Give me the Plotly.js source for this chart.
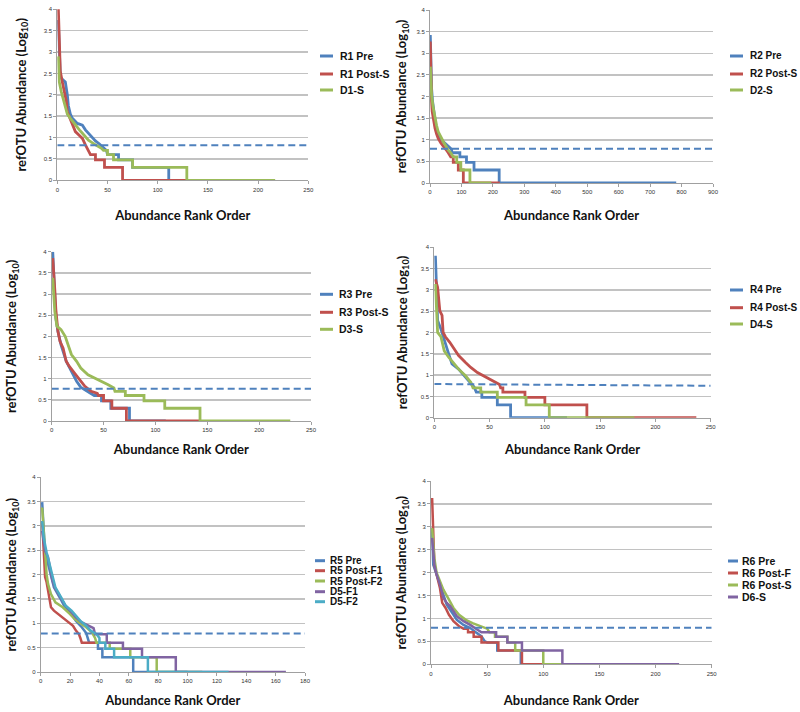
<!DOCTYPE html>
<html><head><meta charset="utf-8">
<script src="https://cdn.plot.ly/plotly-3.0.1.min.js"></script>
<style>html,body{margin:0;padding:0;background:#fff;}#chart{width:800px;height:712px;}</style>
</head><body><div id="chart"></div>
<script>
// ---------- DATA (rank, log10 abundance) ----------
const r1PreRank = [1,2,3,5,8,10,11,13,15,20,25,28,33,38,42,45,49,50,61,61,75,75,111,111,193];
const r1PreLog  = [3.75,3.0,2.42,2.36,2.3,2.0,1.75,1.55,1.45,1.33,1.29,1.18,1.05,0.92,0.85,0.78,0.7,0.602,0.602,0.477,0.477,0.301,0.301,0,0];
const r1PostRank = [1,2,3,5,7,9,10,13,18,22,25,28,31,33,38,38,47,47,65,65,130];
const r1PostLog  = [4.05,3.3,2.55,2.3,2.1,1.85,1.6,1.41,1.14,1.05,0.98,0.83,0.7,0.602,0.602,0.477,0.477,0.301,0.301,0,0];
const d1Rank = [1,2,4,6,8,10,13,18,22,25,31,38,44,46,50,50,56,56,75,75,129,129,217];
const d1Log  = [2.9,2.3,2.07,1.9,1.7,1.55,1.45,1.29,1.18,1.1,0.94,0.83,0.75,0.699,0.699,0.602,0.602,0.477,0.477,0.301,0.301,0,0];

const r2PreRank = [1,3,5,8,11,15,21,26,32,40,48,58,69,69,95,95,116,116,140,140,220,220,783];
const r2PreLog  = [3.42,2.7,2.19,1.9,1.73,1.45,1.19,1.1,1.03,0.97,0.92,0.85,0.778,0.699,0.699,0.602,0.602,0.477,0.477,0.301,0.301,0,0];
const r2PostRank = [1,2,3,5,7,11,16,21,26,34,42,50,58,66,74,74,90,90,106,106,222];
const r2PostLog  = [3.27,2.8,2.2,1.9,1.65,1.45,1.26,1.13,1.03,0.93,0.84,0.78,0.699,0.602,0.602,0.477,0.477,0.301,0.301,0,0];
const d2Rank = [1,3,5,10,16,21,26,34,42,50,58,66,74,85,85,98,98,127,127,195];
const d2Log  = [2.69,2.3,2.03,1.75,1.5,1.33,1.19,1.06,0.96,0.86,0.76,0.699,0.602,0.602,0.477,0.477,0.301,0.301,0,0];

const r3PreRank = [1,2,3,4,6,9,14,19,24,28,33,38,41,48,48,57,57,75,75,110];
const r3PreLog  = [4.0,3.45,2.9,2.43,2.12,1.8,1.41,1.17,0.94,0.8,0.72,0.65,0.602,0.602,0.477,0.477,0.301,0.301,0,0];
const r3PostRank = [1,2,3,4,6,8,11,14,17,22,27,32,38,44,45,50,50,58,58,72,72,143];
const r3PostLog  = [3.85,3.54,3.1,2.64,2.12,1.88,1.72,1.41,1.29,1.13,0.98,0.82,0.7,0.65,0.602,0.602,0.477,0.477,0.301,0.301,0,0];
const d3Rank = [1,2,3,5,9,13,16,19,24,28,35,41,48,54,60,61,71,71,89,89,109,109,143,143,230];
const d3Log  = [3.38,2.98,2.59,2.24,2.16,2.0,1.8,1.57,1.41,1.25,1.09,1.02,0.94,0.86,0.78,0.699,0.699,0.602,0.602,0.477,0.477,0.301,0.301,0,0];

const r4PreRank = [1,2,3,6,9,13,16,22,27,32,36,38,43,43,57,57,69,69,120];
const r4PreLog  = [3.8,3.06,2.28,2.08,1.81,1.5,1.26,1.14,0.99,0.83,0.72,0.602,0.602,0.477,0.477,0.301,0.301,0,0];
const r4PostRank = [1,3,5,7,8,10,14,17,22,28,33,39,44,50,56,59,60,62,62,82,82,100,100,138,138,237];
const r4PostLog  = [3.25,3.06,2.51,2.4,2.0,1.9,1.77,1.65,1.46,1.3,1.18,1.06,0.99,0.91,0.83,0.778,0.699,0.699,0.602,0.602,0.477,0.477,0.301,0.301,0,0];
const d4Rank = [1,2,3,6,9,13,17,22,28,33,35,42,42,57,57,83,83,104,104,181];
const d4Log  = [3.14,2.51,2.0,1.9,1.57,1.42,1.3,1.14,0.99,0.83,0.699,0.699,0.602,0.602,0.477,0.477,0.301,0.301,0,0];

const r5PreRank = [1,2,3,5,7,9,13,16,20,24,28,31,33,39,39,42,42,63,63,100];
const r5PreLog  = [3.49,2.84,2.42,2.22,1.95,1.74,1.53,1.36,1.23,1.05,0.92,0.8,0.602,0.602,0.477,0.477,0.301,0.301,0,0];
const r5PostF1Rank = [1,2,3,4,5,6,7,9,12,15,18,22,24,26,27,28,38];
const r5PostF1Log  = [3.1,2.42,1.95,1.85,1.7,1.53,1.33,1.26,1.19,1.12,1.05,0.95,0.85,0.78,0.699,0.602,0.602];
const r5PostF2Rank = [1,2,3,4,5,7,10,15,20,23,26,31,35,37,38,47,47,61,61,79,79,110];
const r5PostF2Log  = [3.38,2.84,2.29,2.01,1.81,1.6,1.43,1.33,1.19,1.09,1.02,0.92,0.81,0.699,0.602,0.602,0.477,0.477,0.301,0.301,0,0];
const d5F1Rank = [1,3,5,6,8,10,14,17,21,24,28,33,36,37,45,45,56,56,69,69,92,92,167];
const d5F1Log  = [2.9,2.49,2.36,2.22,1.88,1.71,1.5,1.36,1.23,1.12,1.02,0.95,0.9,0.778,0.778,0.602,0.602,0.477,0.477,0.301,0.301,0,0];
const d5F2Rank = [1,2,4,6,8,10,14,17,21,24,27,31,34,38,40,40,44,44,50,50,73,73,128];
const d5F2Log  = [3.1,2.77,2.46,2.22,1.95,1.74,1.53,1.36,1.26,1.16,1.05,0.95,0.85,0.778,0.699,0.602,0.602,0.477,0.477,0.301,0.301,0,0];

const r6PreRank = [1,2,5,8,11,14,19,23,29,35,41,45,48,50,59,59,80,80,90];
const r6PreLog  = [2.97,2.17,1.96,1.74,1.48,1.3,1.12,0.97,0.86,0.79,0.68,0.61,0.5,0.477,0.477,0.301,0.301,0,0];
const r6PostFRank = [1,2,3,5,8,10,13,16,20,25,29,33,33,38,38,45,45,60,60,81,81,100];
const r6PostFLog  = [3.63,2.97,2.17,1.96,1.66,1.34,1.23,1.08,0.94,0.83,0.778,0.778,0.699,0.699,0.602,0.602,0.477,0.477,0.301,0.301,0,0];
const r6PostSRank = [1,3,5,8,11,16,20,25,31,37,44,50,52,57,57,68,68,75,75,100,100,117];
const r6PostSLog  = [2.97,2.31,2.0,1.81,1.63,1.41,1.23,1.08,0.97,0.9,0.83,0.778,0.699,0.699,0.602,0.602,0.477,0.477,0.301,0.301,0,0];
const d6Rank = [1,3,5,8,11,14,17,20,23,29,35,41,45,58,58,68,68,81,81,117,117,221];
const d6Log  = [2.76,2.17,1.96,1.74,1.45,1.34,1.27,1.16,1.05,0.94,0.86,0.76,0.699,0.699,0.602,0.602,0.477,0.477,0.301,0.301,0,0];

// threshold (dashed) lines
const thr1Rank = [0,250], thr1Log = [0.82,0.82];
const thr2Rank = [0,900], thr2Log = [0.79,0.79];
const thr3Rank = [0,250], thr3Log = [0.76,0.76];
const thr4Rank = [0,250], thr4Log = [0.79,0.75];
const thr5Rank = [0,180], thr5Log = [0.79,0.79];
const thr6Rank = [0,250], thr6Log = [0.8,0.8];

const xMax = [250, 900, 250, 250, 180, 250];
const xStep = [50, 100, 50, 50, 20, 50];
const yTicks = [0,0.5,1,1.5,2,2.5,3,3.5,4];

const names1 = ['R1 Pre','R1 Post-S','D1-S'];
const names2 = ['R2 Pre','R2 Post-S','D2-S'];
const names3 = ['R3 Pre','R3 Post-S','D3-S'];
const names4 = ['R4 Pre','R4 Post-S','D4-S'];
const names5 = ['R5 Pre','R5 Post-F1','R5 Post-F2','D5-F1','D5-F2'];
const names6 = ['R6 Pre','R6 Post-F','R6 Post-S','D6-S'];

// ---------- STYLE ----------
const C = {blue:'#4F81BD', red:'#C0504D', green:'#9BBB59', purple:'#8064A2', cyan:'#4BACC6'};
const panels = [
  {names:names1, xs:[r1PreRank,r1PostRank,d1Rank], ys:[r1PreLog,r1PostLog,d1Log], colors:[C.blue,C.red,C.green], thrX:thr1Rank, thrY:thr1Log},
  {names:names2, xs:[r2PreRank,r2PostRank,d2Rank], ys:[r2PreLog,r2PostLog,d2Log], colors:[C.blue,C.red,C.green], thrX:thr2Rank, thrY:thr2Log},
  {names:names3, xs:[r3PreRank,r3PostRank,d3Rank], ys:[r3PreLog,r3PostLog,d3Log], colors:[C.blue,C.red,C.green], thrX:thr3Rank, thrY:thr3Log},
  {names:names4, xs:[r4PreRank,r4PostRank,d4Rank], ys:[r4PreLog,r4PostLog,d4Log], colors:[C.blue,C.red,C.green], thrX:thr4Rank, thrY:thr4Log},
  {names:names5, xs:[r5PreRank,r5PostF1Rank,r5PostF2Rank,d5F1Rank,d5F2Rank], ys:[r5PreLog,r5PostF1Log,r5PostF2Log,d5F1Log,d5F2Log], colors:[C.blue,C.red,C.green,C.purple,C.cyan], thrX:thr5Rank, thrY:thr5Log},
  {names:names6, xs:[r6PreRank,r6PostFRank,r6PostSRank,d6Rank], ys:[r6PreLog,r6PostFLog,r6PostSLog,d6Log], colors:[C.blue,C.red,C.green,C.purple], thrX:thr6Rank, thrY:thr6Log}
];
// geometry in pixels
const geom = [
  {x0:57.3, x1:308.3, y0:9.3, y1:180.3, lw:2.8, ytStand:14, xtStand:19,
   leg:{l0:320,l1:333,tx:338,ys:[56,74,90],fs:10.5}},
  {x0:430, x1:713, y0:10, y1:183, lw:2.8, ytStand:6, xtStand:16,
   leg:{l0:730,l1:743,tx:748,ys:[56,74,90],fs:10}},
  {x0:51.7, x1:311, y0:251.7, y1:421, lw:2.8, ytStand:18, xtStand:12,
   leg:{l0:320,l1:333,tx:337,ys:[294.3,312.3,329.3],fs:10.5}},
  {x0:434.3, x1:710.7, y0:247.3, y1:417.7, lw:2.8, ytStand:10, xtStand:15,
   leg:{l0:730,l1:743,tx:748,ys:[290,307.7,324],fs:10}},
  {x0:40.7, x1:305, y0:477.3, y1:672, lw:2.5, ytStand:7, xtStand:12,
   leg:{l0:315,l1:325,tx:328,ys:[560.7,570.7,581,591.7,601.7],fs:10}},
  {x0:431, x1:711.7, y0:481, y1:664.3, lw:2.5, ytStand:7, xtStand:20,
   leg:{l0:728,l1:738,tx:740,ys:[561,573,585,597],fs:10.5}}
];
const W = 800, H = 712;
const px = v => v / W, py = v => 1 - v / H;

const traces = [];
const layout = {
  width: W, height: H, margin: {l:0, r:0, t:0, b:0},
  paper_bgcolor:'#ffffff', plot_bgcolor:'#ffffff', showlegend:false,
  shapes: [], annotations: []
};
const titleFont = {family:'Lato, "Open Sans", sans-serif', size:13, color:'#111', weight:'bold'};
const tickFont = {family:'"Liberation Sans", Arial, sans-serif', size:6, color:'#333'};

panels.forEach((p, i) => {
  const g = geom[i];
  const xa = i === 0 ? 'x' : 'x' + (i+1);
  const ya = i === 0 ? 'y' : 'y' + (i+1);
  const xk = i === 0 ? 'xaxis' : 'xaxis' + (i+1);
  const yk = i === 0 ? 'yaxis' : 'yaxis' + (i+1);
  p.names.forEach((n, k) => {
    traces.push({type:'scatter', mode:'lines', name:n, x:p.xs[k], y:p.ys[k], xaxis:xa, yaxis:ya,
      line:{color:p.colors[k], width:g.lw}, hoverinfo:'skip'});
  });
  traces.push({type:'scatter', mode:'lines', name:'threshold', x:p.thrX, y:p.thrY, xaxis:xa, yaxis:ya,
    line:{color:'#4F81BD', width:2, dash:'7px,4px'}, hoverinfo:'skip'});
  layout[xk] = {domain:[px(g.x0), px(g.x1)], anchor:ya, range:[0, xMax[i]], dtick:xStep[i], tick0:0,
    showgrid:false, zeroline:false, showline:true, linecolor:'#a0a0a0', linewidth:1,
    ticks:'outside', ticklen:3, tickcolor:'#a0a0a0', tickfont:tickFont,
    title:{text:'Abundance Rank Order', font:titleFont, standoff:g.xtStand}};
  layout[yk] = {domain:[py(g.y1), py(g.y0)], anchor:xa, range:[0,4], tickvals:yTicks,
    showgrid:true, gridcolor:'#c2c2c2', gridwidth:1.5, zeroline:false, showline:true, linecolor:'#a0a0a0', linewidth:1,
    ticks:'outside', ticklen:3, tickcolor:'#a0a0a0', tickfont:tickFont,
    title:{text:'refOTU Abundance (Log<sub>10</sub>)', font:titleFont, standoff:g.ytStand}};
  // legend (drawn as line samples + text)
  p.names.forEach((n, k) => {
    const yy = g.leg.ys[k];
    layout.shapes.push({type:'line', xref:'paper', yref:'paper', x0:px(g.leg.l0), x1:px(g.leg.l1), y0:py(yy), y1:py(yy),
      line:{color:p.colors[k], width:3}});
    layout.annotations.push({xref:'paper', yref:'paper', x:px(g.leg.tx), y:py(yy), xanchor:'left', yanchor:'middle',
      text:n, showarrow:false, font:{family:'"Liberation Sans", Arial, sans-serif', size:g.leg.fs, color:'#111', weight:'bold'}});
  });
});

Plotly.newPlot('chart', traces, layout, {displayModeBar:false, staticPlot:true});
</script>
</body></html>
